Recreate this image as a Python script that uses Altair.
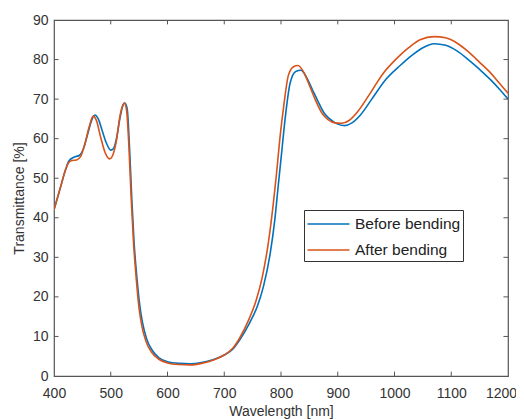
import altair as alt
import pandas as pd

# Before bending (blue)
wl_before = [400, 412, 420, 426, 435, 445, 452, 460, 466, 472, 478, 485, 492, 500, 505, 510, 516, 521, 525, 529, 533, 537, 541, 546, 551, 556, 563, 573, 585, 600, 620, 640, 660, 680, 700, 715, 728, 745, 758, 769, 781, 789, 795, 801, 807, 816, 826, 835, 845, 855, 865, 876, 886, 898, 912, 925, 940, 960, 985, 1010, 1030, 1050, 1070, 1090, 1110, 1130, 1150, 1170, 1185, 1200]
t_before = [42, 48, 52, 54.3, 55.3, 55.8, 57.5, 61.5, 64.5, 66, 65, 62, 59, 57.1, 57.5, 60, 65, 68.2, 69, 67.5, 58, 45, 34, 25, 18, 13.5, 9.5, 6.5, 4.6, 3.6, 3.2, 3.1, 3.4, 4.1, 5.3, 6.8, 9.3, 13.5, 17.5, 22.6, 31, 39.4, 47.9, 56.3, 64.7, 74, 77, 77.3, 75.5, 72.5, 69.5, 66.5, 65, 63.8, 63.3, 64, 66, 70, 75, 78.5, 81, 83, 84, 83.6, 82.2, 80, 77.5, 74.8, 72.5, 70]

# After bending (orange)
wl_after = [400, 412, 420, 426, 432, 440, 447, 455, 462, 469, 475, 482, 490, 498, 504, 510, 516, 520, 524, 528, 532, 536, 540, 545, 550, 555, 562, 572, 584, 600, 620, 640, 660, 680, 700, 715, 728, 744, 756, 767, 778, 786, 792, 798, 805, 813, 822, 830, 840, 850, 860, 872, 883, 895, 907, 920, 935, 955, 980, 1004, 1025, 1045, 1070, 1090, 1110, 1130, 1150, 1170, 1185, 1200]
t_after = [42, 48, 52, 54, 54.5, 54.6, 55.5, 59, 63, 65.7, 64.5, 60.5, 56.5, 54.9, 56, 59.5, 65.5, 68, 69, 67, 58, 45, 34, 24.5, 17, 12.5, 8.8, 6, 4.3, 3.3, 2.9, 2.8, 3.2, 4.0, 5.3, 7.0, 9.8, 14.5, 19, 25, 34, 43, 51, 60, 68.5, 76, 78.2, 78.5, 76.8, 73.5, 70, 66.5, 64.8, 64, 63.9, 64.6, 66.8, 71, 76.5, 80.3, 83, 85, 85.8, 85.5, 84.2, 82, 79.3, 76.5, 74, 71.5]

x_ticks = [400, 500, 600, 700, 800, 900, 1000, 1100, 1200]
y_ticks = [0, 10, 20, 30, 40, 50, 60, 70, 80, 90]
series_names = ["Before bending", "After bending"]
series_colors = ["#0072BD", "#D95319"]

df = pd.concat([
    pd.DataFrame({"wl": wl_before, "t": t_before, "s": series_names[0], "o": 0}),
    pd.DataFrame({"wl": wl_after, "t": t_after, "s": series_names[1], "o": 1}),
])

xs = alt.Scale(domain=[400, 1200], nice=False, zero=False)
ys = alt.Scale(domain=[0, 90], nice=False)

font = "Liberation Sans"
x_title = "Wavelength [nm]"
y_title = "Transmittance [%]"

x_axis = alt.Axis(values=x_ticks, format="d", tickSize=0, labelPadding=10, titlePadding=4,
                  grid=False, domain=False, labelFlush=False, labelOverlap=False,
                  labelOffset={"condition": {"test": "datum.value == 1200", "value": -7}, "value": 0})
y_axis = alt.Axis(values=y_ticks, tickSize=0, labelPadding=6, titlePadding=6,
                  grid=False, domain=False, labelOverlap=False)

lines = alt.Chart(df).mark_line(strokeWidth=1.6, interpolate="monotone", clip=True).encode(
    x=alt.X("wl:Q", scale=xs, title=x_title, axis=x_axis),
    y=alt.Y("t:Q", scale=ys, title=y_title, axis=y_axis),
    color=alt.Color("s:N", scale=alt.Scale(domain=series_names, range=series_colors),
                    legend=alt.Legend(title=None, orient="none", legendX=250, legendY=190,
                                      symbolType="M-1,0H3", symbolSize=441, symbolStrokeWidth=1.6,
                                      labelFontSize=15.5, labelFont=font, labelColor="#222",
                                      strokeColor="#333", fillColor="white", padding=2.5,
                                      rowPadding=6, labelOffset=25.5)),
    order="o:Q",
    detail="s:N",
)

inner_x = [v for v in x_ticks if 400 < v < 1200]
inner_y = [v for v in y_ticks if 0 < v < 90]
tx = pd.DataFrame({"x": inner_x})
ty = pd.DataFrame({"y": inner_y})
tick_col = "#555"


def xdat(v):
    return alt.XDatum(v, scale=xs, title=x_title, axis=x_axis, type="quantitative")


def ydat(v):
    return alt.YDatum(v, scale=ys, title=y_title, axis=y_axis, type="quantitative")


bt = alt.Chart(tx).mark_rule(color=tick_col, strokeWidth=1).encode(
    x=alt.X("x:Q", scale=xs, title=x_title, axis=x_axis),
    y=ydat(0), y2=alt.datum(1.1))
tt = alt.Chart(tx).mark_rule(color=tick_col, strokeWidth=1).encode(
    x=alt.X("x:Q", scale=xs, title=x_title, axis=x_axis),
    y=ydat(90), y2=alt.datum(88.9))
lt = alt.Chart(ty).mark_rule(color=tick_col, strokeWidth=1).encode(
    y=alt.Y("y:Q", scale=ys, title=y_title, axis=y_axis),
    x=xdat(400), x2=alt.datum(408))
rt = alt.Chart(ty).mark_rule(color=tick_col, strokeWidth=1).encode(
    y=alt.Y("y:Q", scale=ys, title=y_title, axis=y_axis),
    x=xdat(1200), x2=alt.datum(1192))

chart = alt.layer(lines, bt, tt, lt, rt).properties(
    width=454, height=356,
    autosize=alt.AutoSizeParams(type="none"),
    padding={"left": 46, "top": 12, "right": 8, "bottom": 45},
).configure_view(
    stroke="#555", strokeWidth=1.2
).configure_axis(
    labelFont=font, titleFont=font, labelFontSize=14, titleFontSize=14,
    labelColor="#333", titleColor="#333", titleFontWeight="normal", labelOverlap=False
)

chart.save("out.html", embed_options={"renderer": "svg", "actions": False})
